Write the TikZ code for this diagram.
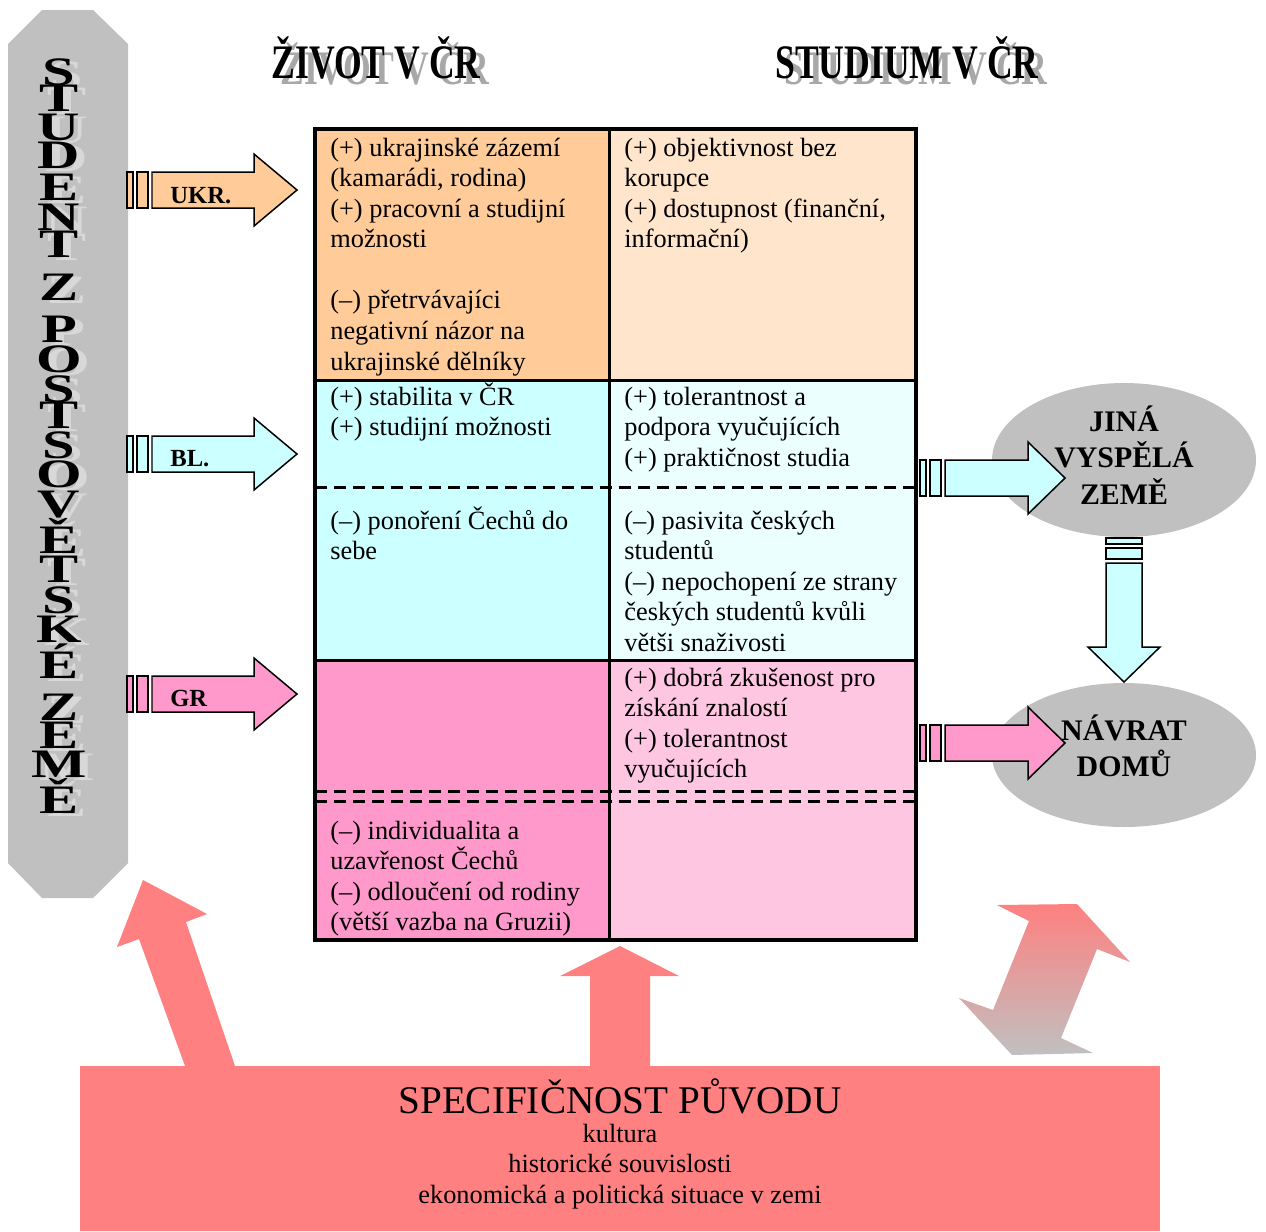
\documentclass[tikz,border=0pt]{standalone}
\usepackage{fontspec}
\setmainfont{Liberation Serif}
\usepackage{graphicx}
\usetikzlibrary{positioning}

\definecolor{peach}{HTML}{FFCC99}
\definecolor{peachlight}{HTML}{FFE5CC}
\definecolor{cyanbox}{HTML}{CCFFFF}
\definecolor{cyanlight}{HTML}{EBFFFF}
\definecolor{pinkbox}{HTML}{FF99CC}
\definecolor{pinklight}{HTML}{FFC6E2}
\definecolor{salmon}{HTML}{FF8080}
\definecolor{silver}{HTML}{C0C0C0}
\definecolor{letterghost}{HTML}{D8D8D8}
\definecolor{headghost}{HTML}{A8A8A8}

% block arrow with two stripes, pointing along +x
\newcommand{\stripearrow}[3]{
  % stripes
  \filldraw[fill=#3, arrowline] (0,-18) rectangle (6,18);
  \filldraw[fill=#3, arrowline] (10,-18) rectangle (21,18);
  % shaft and head
  \filldraw[fill=#3, arrowline] (25,-18) -- (#1,-18) -- (#1,-36)
    -- (#2,0) -- (#1,36) -- (#1,18) -- (25,18) -- cycle;
}
\newcommand{\cellbox}[1]{\parbox[t]{6cm}{#1}}
\newcommand{\ovalbox}[1]{\parbox[t]{4cm}{\centering #1}}
% text with a lighter copy behind it (shift right, shift down, colour, text)
\newcommand{\ghosted}[4]{\makebox[0pt][l]{\hspace*{#1}\raisebox{#2}{\color{#3}#4}}#4}

\tikzset{
  arrowline/.style={draw=black, line width=0.85pt, line join=miter},
  gridline/.style={line width=1.7pt},
  dashline/.style={line width=1.7pt, dash pattern=on 6.8pt off 4pt},
  celltext/.style={anchor=base west, inner sep=0pt, font=\fontsize{15}{17.4}\selectfont},
  armlabel/.style={anchor=base west, inner sep=0pt, font=\fontsize{14}{16}\selectfont\bfseries},
  ovaltext/.style={anchor=base, inner sep=0pt, font=\fontsize{17}{21}\selectfont\bfseries},
  letter/.style={anchor=base, inner sep=0pt, font=\fontsize{23}{23}\selectfont\bfseries},
  heading/.style={anchor=base, inner sep=0pt, font=\fontsize{27.4}{30}\selectfont\bfseries}
}

\begin{document}
\begin{tikzpicture}[x=0.02cm, y=-0.02cm]
  \fill[white] (0,0) rectangle (1266,1231);
  \useasboundingbox (0,0) rectangle (1266,1231);

  % Banner on the left
  \fill[silver] (42,10) -- (93,10) -- (128,44) -- (128,863) -- (93,898)
    -- (42,898) -- (8,863) -- (8,44) -- cycle;
  \foreach \ch/\yy [count=\i] in {S/85, T/111, U/140, D/168, E/200, N/230, T/257,
      Z/300, P/342, O/372, S/402, T/428, S/458, O/487, V/517, Ě/553, T/582,
      S/613, K/642, É/678, Z/720, E/748, M/777, Ě/813}{
    \node[letter] (letter\i) at (59,\yy)
      {\ghosted{0.16cm}{-0.06cm}{letterghost}{\scalebox{1.45}[1]{\ch}}};
  }

  % Headings
  \node[heading] (zivot) at (376,78)
    {\ghosted{0.18cm}{-0.12cm}{headghost}{\scalebox{0.74}[1]{ŽIVOT V ČR}}};
  \node[heading] (studium) at (907,78)
    {\ghosted{0.18cm}{-0.12cm}{headghost}{\scalebox{0.74}[1]{STUDIUM V ČR}}};

  % Table cells
  \fill[peach] (315,129) rectangle (609,380);
  \fill[peachlight] (609,129) rectangle (916,380);
  \fill[cyanbox] (315,380) rectangle (609,660);
  \fill[cyanlight] (609,380) rectangle (916,660);
  \fill[pinkbox] (315,660) rectangle (609,940);
  \fill[pinklight] (609,660) rectangle (916,940);
  \draw[gridline] (609,129) -- (609,940);
  \draw[gridline] (315,380) -- (916,380);
  \draw[gridline] (315,660) -- (916,660);
  \draw[dashline] (315,487) -- (916,487);
  \draw[dashline] (315,791) -- (916,791);
  \draw[dashline] (315,801) -- (916,801);
  \draw[line width=2pt] (315,129) rectangle (916,940);

  % Cell texts
  \node[celltext] (ukrlife) at (330,156) {\cellbox{(+) ukrajinské zázemí\\(kamarádi, rodina)\\(+) pracovní a studijní\\možnosti\\[17.4pt](–) přetrvávajíci\\negativní názor na\\ukrajinské dělníky}};
  \node[celltext] (ukrstudy) at (624,156) {\cellbox{(+) objektivnost bez\\korupce\\(+) dostupnost (finanční,\\informační)}};
  \node[celltext] (bllife) at (330,405) {\cellbox{(+) stabilita v ČR\\(+) studijní možnosti}};
  \node[celltext] (blstudy) at (624,405) {\cellbox{(+) tolerantnost a\\podpora vyučujících\\(+) praktičnost studia}};
  \node[celltext] (bllifeneg) at (330,529) {\cellbox{(–) ponoření Čechů do\\sebe}};
  \node[celltext] (blstudyneg) at (624,529) {\cellbox{(–) pasivita českých\\studentů\\(–) nepochopení ze strany\\českých studentů kvůli\\větši snaživosti}};
  \node[celltext] (grstudy) at (624,686) {\cellbox{(+) dobrá zkušenost pro\\získání znalostí\\(+) tolerantnost\\vyučujících}};
  \node[celltext] (grlifeneg) at (330,839) {\cellbox{(–) individualita a\\uzavřenost Čechů\\(–) odloučení od rodiny\\(větší vazba na Gruzii)}};

  % Arrows from the banner
  \begin{scope}[shift={(127,190)}]
    \stripearrow{127}{170}{peach}
  \end{scope}
  \begin{scope}[shift={(127,454)}]
    \stripearrow{127}{170}{cyanbox}
  \end{scope}
  \begin{scope}[shift={(127,694)}]
    \stripearrow{127}{170}{pinkbox}
  \end{scope}
  \node[armlabel] (ukr) at (170,203) {UKR.};
  \node[armlabel] (bl) at (170,466) {BL.};
  \node[armlabel] (gr) at (170,706) {GR};

  % Destinations
  \fill[silver] (1124,460) ellipse (2.64cm and 1.54cm);
  \fill[silver] (1124,755) ellipse (2.64cm and 1.44cm);
  \begin{scope}[shift={(920,478)}]
    \stripearrow{108}{145}{cyanbox}
  \end{scope}
  \begin{scope}[shift={(920,743)}]
    \stripearrow{108}{145}{pinkbox}
  \end{scope}
  \begin{scope}[shift={(1124,538)}, rotate=-90]
    \stripearrow{109}{144}{cyanbox}
  \end{scope}
  \node[ovaltext] (abroad) at (1124,431) {\ovalbox{JINÁ\\VYSPĚLÁ\\ZEMĚ}};
  \node[ovaltext] (home) at (1124,740) {\ovalbox{NÁVRAT\\DOMŮ}};

  % Origin box and its arrows
  \fill[salmon] (143,880) -- (207,914) -- (186,922) -- (235,1066) -- (185,1066)
    -- (139,939) -- (117,947) -- cycle;
  \fill[salmon] (620,946) -- (679,976) -- (650,976) -- (650,1066) -- (590,1066)
    -- (590,976) -- (560,976) -- cycle;
  \shade[top color=salmon, bottom color=silver] (997,905) -- (1077,904) -- (1130,962)
    -- (1097,949) -- (1061,1038) -- (1093,1053) -- (1012,1055) -- (959,998)
    -- (993,1010) -- (1029,921) -- cycle;
  \fill[salmon] (80,1066) rectangle (1160,1231);
  \node[anchor=base, inner sep=0pt, font=\fontsize{22.3}{26}\selectfont] (origin) at (620,1113) {SPECIFIČNOST PŮVODU};
  \node[anchor=base, inner sep=0pt, font=\fontsize{15}{17.6}\selectfont] (factors) at (620,1142) {\parbox[t]{10cm}{\centering kultura\\historické souvislosti\\ekonomická a politická situace v zemi}};
\end{tikzpicture}
\end{document}
